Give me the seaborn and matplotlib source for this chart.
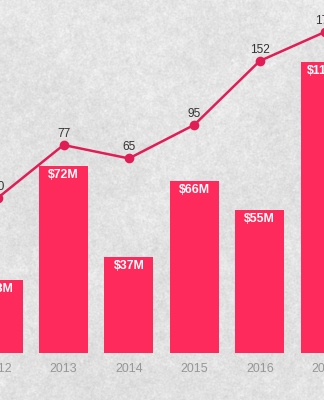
import numpy as np
import pandas as pd
import matplotlib
matplotlib.use("Agg")
import matplotlib.pyplot as plt
import seaborn as sns

# Annual funding ($M) and number of deals
years = ["2012", "2013", "2014", "2015", "2016", "2017"]
funding = [28, 72, 37, 66, 55, 112]
deals = [30, 77, 65, 95, 152, 178]
funding_labels = [f"${v}M" for v in funding]

BAR_COLOR = "#FF2A5C"
LINE_COLOR = "#E01E55"

sns.set_theme(style="white")
plt.rcParams["font.family"] = ["Liberation Sans", "DejaVu Sans"]

W, H = 324, 400
STEP = 65.4        # pixels between neighbouring years
FIRST_FULL = 63.5  # pixel centre of the second year
OVERHANG = 40      # axes run past both figure edges so edge years keep ticks
fig = plt.figure(figsize=(W / 100, H / 100), dpi=100)


def blur(a, sigma):
    """Gaussian blur through the frequency domain."""
    fy = np.fft.fftfreq(a.shape[0])[:, None]
    fx = np.fft.fftfreq(a.shape[1])[None, :]
    g = np.exp(-2 * (np.pi * sigma) ** 2 * (fx ** 2 + fy ** 2))
    return np.real(np.fft.ifft2(np.fft.fft2(a) * g))


# plaster-like backdrop
rng = np.random.default_rng(11)
coarse = blur(rng.normal(size=(H, W)), 22)
coarse /= coarse.std()
medium = blur(rng.normal(size=(H, W)), 2.5)
medium /= medium.std()
fine = blur(rng.normal(size=(H, W)), 0.6)
fine /= fine.std()
rows = np.linspace(1, 0, H)[:, None]
tex = 0.877 + 0.02 * rows + 0.006 * coarse + 0.008 * medium + 0.014 * fine
tex = np.clip(tex, 0, 1)

bg = fig.add_axes([0, 0, 1, 1], zorder=0)
bg.imshow(tex, cmap="gray", vmin=0, vmax=1, aspect="auto",
          interpolation="bilinear")
bg.axis("off")

# bars: funding
ax = fig.add_axes([-OVERHANG / W, 47 / H, (W + 2 * OVERHANG) / W, 353 / H],
                  zorder=1)
ax.patch.set_alpha(0)
df = pd.DataFrame({"year": years, "funding": funding, "deals": deals})
sns.barplot(data=df, x="year", y="funding", color=BAR_COLOR, width=0.75,
            saturation=1, linewidth=0, edgecolor="none", ax=ax)
x0 = 1 - (FIRST_FULL + OVERHANG) / STEP
ax.set_xlim(x0, x0 + (W + 2 * OVERHANG) / STEP)
ax.set_ylim(0, 353 / 2.6)
ax.set_xlabel("")
ax.set_ylabel("")
ax.set_yticks([])
for s in ax.spines.values():
    s.set_visible(False)
ax.tick_params(axis="x", length=0, pad=7.0, labelsize=8.9,
               labelcolor="#979797")

for i, (v, lbl) in enumerate(zip(funding, funding_labels)):
    ax.annotate(lbl, (i, v), xytext=(0, -2.2), textcoords="offset points",
                ha="center", va="top", color="white", fontsize=8.9,
                fontweight="bold", annotation_clip=False)

# line: number of deals
ax2 = ax.twinx()
ax2.set_zorder(2)
ax2.patch.set_alpha(0)
sns.lineplot(x=np.arange(len(years)), y=df["deals"], ax=ax2, color=LINE_COLOR,
             linewidth=1.8, marker="o", markersize=7, markeredgewidth=0)
ax2.set_ylim(77 - 208 / 1.12, 77 + 145 / 1.12)
ax2.set_xlim(ax.get_xlim())
ax2.set_yticks([])
ax2.set_ylabel("")
for s in ax2.spines.values():
    s.set_visible(False)

for i, v in enumerate(deals):
    ax2.annotate(str(v), (i, v), xytext=(0, 5.8), textcoords="offset points",
                 ha="center", va="baseline", color="#333333", fontsize=8.6,
                 annotation_clip=False)

fig.savefig("out.png", dpi=100)
